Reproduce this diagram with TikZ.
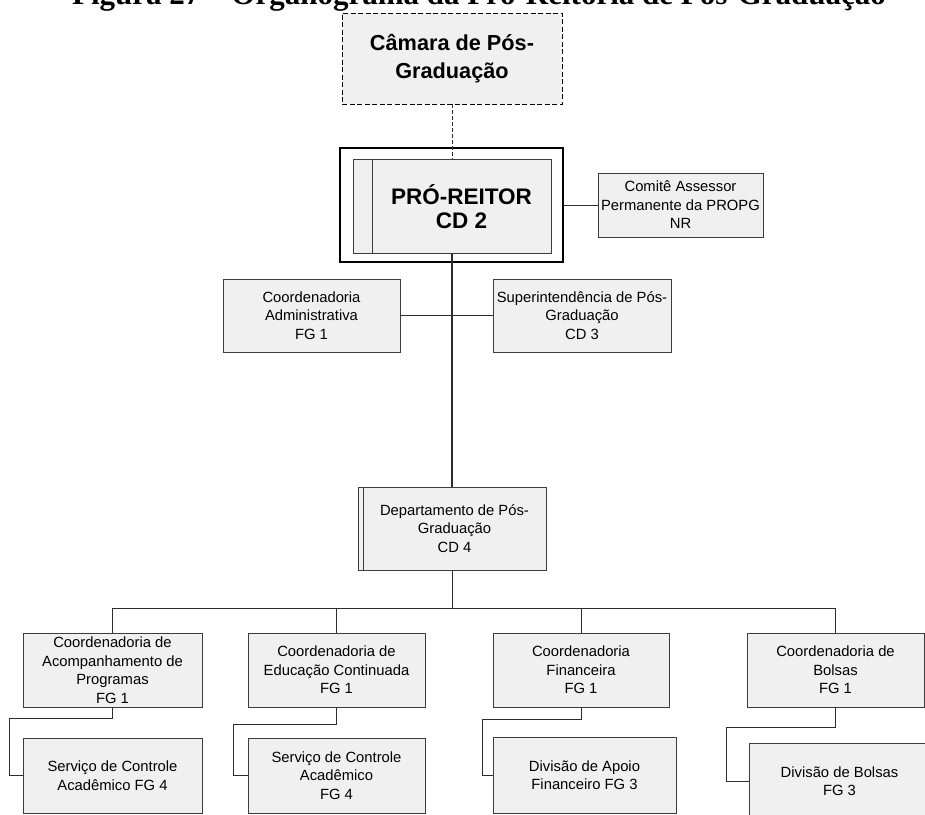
\documentclass[tikz,border=0pt]{standalone}
\usepackage{fontspec}
\setmainfont{Liberation Sans}
\newfontfamily\titlefont{Liberation Serif}
\definecolor{boxfill}{RGB}{240,240,240}
\definecolor{boxline}{RGB}{60,60,60}
\definecolor{wire}{RGB}{45,45,45}
\begin{document}
\begin{tikzpicture}[x=1pt,y=-1pt,
  every node/.style={inner sep=0pt, outer sep=0pt},
  unit/.style={draw=boxline, fill=boxfill, line width=0.9pt, align=center,
    font=\fontsize{14.8}{18.5}\selectfont},
  council/.style={unit, dashed, dash pattern=on 5pt off 2.5pt, draw=black,
    font=\fontsize{21.7}{27.5}\selectfont\bfseries},
  headframe/.style={draw=black, fill=white, line width=2.6pt},
  link/.style={draw=wire, line width=1pt},
  trunk/.style={draw=wire, line width=1.5pt},
  dashlink/.style={draw=wire, line width=0.9pt, dash pattern=on 4pt off 2pt}
]
\useasboundingbox (0,0) rectangle (925,814);

% title line (partly above the page edge)
\node[font=\titlefont\fontsize{31}{36}\selectfont\bfseries, anchor=base]
  (title) at (479,4) {Figura 27 – Organograma da Pró-Reitoria de Pós-Graduação};

% council
\node[council, minimum width=220pt, minimum height=91pt] (cam) at (452,58.5)
  {Câmara de Pós-\\Graduação};

% head of the office
\node[headframe, minimum width=223pt, minimum height=114pt] (pr) at (451.5,205) {};
\node[unit, minimum width=198pt, minimum height=94pt] (pri) at (452,206) {};
\draw[boxline, line width=0.9pt] ([xshift=19pt]pri.north west) -- ([xshift=19pt]pri.south west);
\node[font=\fontsize{22.5}{24}\selectfont\bfseries, align=center] (prt) at (461.5,207)
  {PRÓ-REITOR\\CD 2};

\node[unit, minimum width=165pt, minimum height=64pt] (com) at (680.5,205)
  {Comitê Assessor\\Permanente da PROPG\\NR};

% second level
\node[unit, minimum width=177pt, minimum height=73pt] (adm) at (311.5,315.5)
  {Coordenadoria\\Administrativa\\FG 1};
\node[unit, minimum width=178pt, minimum height=73pt] (sup) at (582,315.5)
  {Superintendência de Pós-\\Graduação\\CD 3};

% department
\node[unit, minimum width=188pt, minimum height=83pt] (dep) at (452,528.5)
  {\hspace*{5pt}Departamento de Pós-\\\hspace*{5pt}Graduação\\\hspace*{5pt}CD 4};
\draw[boxline, line width=0.9pt] ([xshift=5pt]dep.north west) -- ([xshift=5pt]dep.south west);

% coordinations
\node[unit, minimum width=179pt, minimum height=74pt] (c1) at (112.5,670)
  {Coordenadoria de\\Acompanhamento de\\Programas\\FG 1};
\node[unit, minimum width=177pt, minimum height=74pt] (c2) at (336.5,670)
  {Coordenadoria de\\Educação Continuada\\FG 1};
\node[unit, minimum width=176pt, minimum height=74pt] (c3) at (581,670)
  {Coordenadoria\\Financeira\\FG 1};
\node[unit, minimum width=177pt, minimum height=74pt] (c4) at (835.5,670)
  {Coordenadoria de\\Bolsas\\FG 1};

% services and divisions
\node[unit, minimum width=179pt, minimum height=75pt] (s1) at (112.5,775.5)
  {Serviço de Controle\\Acadêmico FG 4};
\node[unit, minimum width=177pt, minimum height=75pt] (s2) at (336.5,775.5)
  {Serviço de Controle\\Acadêmico\\FG 4};
\node[unit, minimum width=183pt, minimum height=76pt] (s3) at (584.5,775)
  {Divisão de Apoio\\Financeiro FG 3};
\node[unit, minimum width=181pt, minimum height=76pt] (s4) at (839.5,781)
  {Divisão de Bolsas\\FG 3};

% connectors
\draw[dashlink] (cam.south) -- (pri.north);
\draw[link] (pr.east) -- (com.west);
\draw[trunk] (pri.south) -- (dep.north);
\draw[link] (adm.east) -- (sup.west);

\coordinate (bus) at (452,608);
\draw[link] (dep.south) -- (bus);
\draw[link] (c1.north) |- (bus) -| (c4.north);
\draw[link] (c2.north) -- (c2.north |- bus);
\draw[link] (c3.north) -- (c3.north |- bus);

\coordinate (k1) at (9,718);
\coordinate (k2) at (233,724);
\coordinate (k3) at (482,719);
\coordinate (k4) at (726,727);
\draw[link] (c1.south) |- (k1) |- (s1.west);
\draw[link] (c2.south) |- (k2) |- (s2.west);
\draw[link] (c3.south) |- (k3) |- (s3.west);
\draw[link] (c4.south) |- (k4) |- (s4.west);
\end{tikzpicture}
\end{document}
